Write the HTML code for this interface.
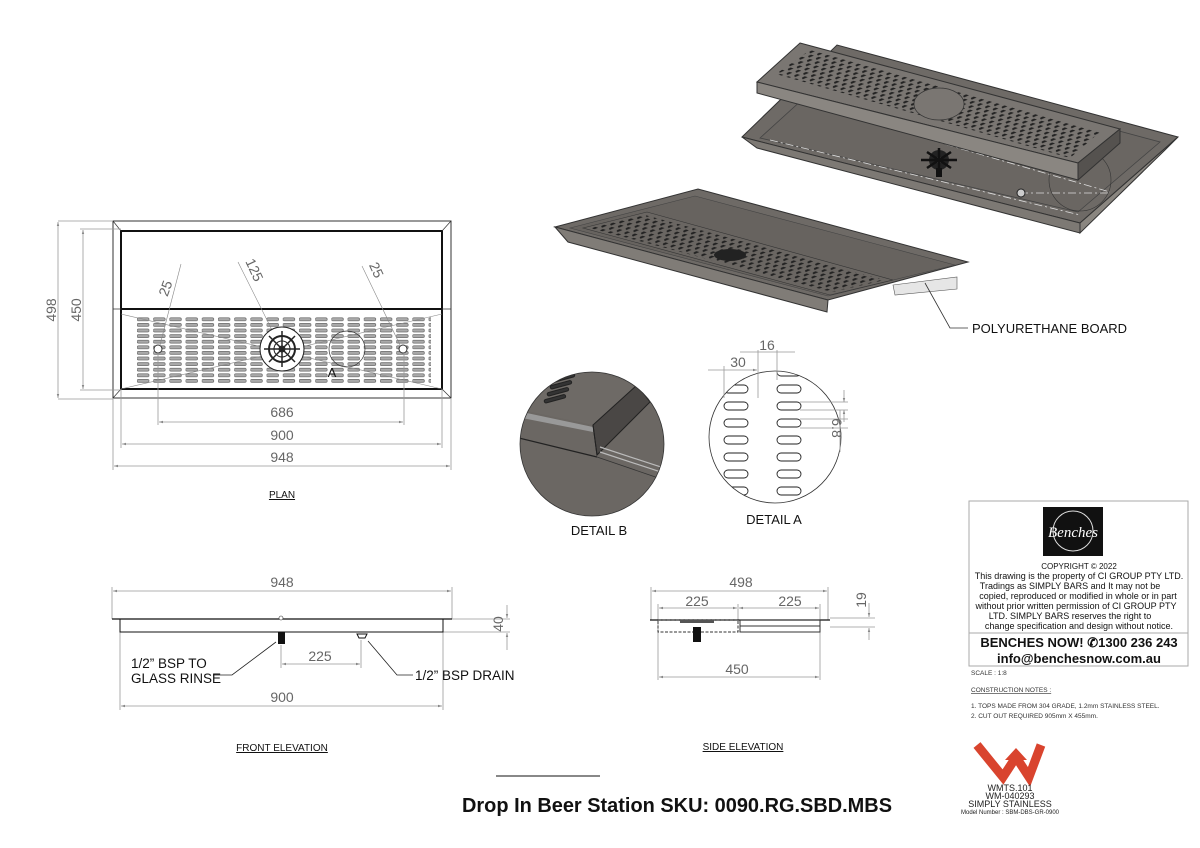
<!DOCTYPE html>
<html><head><meta charset="utf-8"><style>
html,body{margin:0;padding:0;background:#fff;}
svg{display:block;font-family:"Liberation Sans",sans-serif;}
.d{stroke:#999;stroke-width:0.8;fill:none}
.t{fill:#666;font-size:14px;text-anchor:middle}
</style></head><body>
<svg width="1200" height="848" viewBox="0 0 1200 848" xmlns="http://www.w3.org/2000/svg">
<defs>
<pattern id="slots" x="137" y="317" width="16.2" height="5.6" patternUnits="userSpaceOnUse">
<rect x="0" y="0.8" width="12" height="3" rx="1.5" fill="#aaa" stroke="#555" stroke-width="0.6"/>
</pattern>
<pattern id="iso" width="8" height="4.5" patternUnits="userSpaceOnUse" patternTransform="rotate(16)">
<rect x="0" y="0" width="6" height="2" rx="1" fill="#222" transform="rotate(-40 3 1)"/>
</pattern>
<marker id="ar" viewBox="0 0 10 10" refX="10" refY="5" markerWidth="7" markerHeight="5" orient="auto-start-reverse"><path d="M0,2 L10,5 L0,8z" fill="#888"/></marker>
<clipPath id="cB"><circle cx="592" cy="444" r="72"/></clipPath>
<clipPath id="cA"><circle cx="775" cy="437" r="66"/></clipPath>
</defs>

<!-- ===== ISO TOP RIGHT ===== -->
<polygon points="742,137 837,45 1178,137 1080,223" fill="#6e6a66" stroke="#333" stroke-width="1"/>
<polygon points="742,137 1080,223 1080,233 757,148" fill="#7d7974" stroke="#333" stroke-width="1"/>
<polygon points="1080,223 1178,137 1165,150 1080,233" fill="#8a8680" stroke="#333"/>
<polygon points="760,138 848,58 1160,142 1078,212" fill="#6a6662" stroke="#444" stroke-width="0.8"/>
<line x1="838" y1="113" x2="1110" y2="192" stroke="#ddd" stroke-width="0.8" stroke-dasharray="8,3,2,3"/>
<line x1="770" y1="140" x2="1080" y2="215" stroke="#ddd" stroke-width="0.8" stroke-dasharray="8,3,2,3"/>
<line x1="1020" y1="193" x2="1110" y2="193" stroke="#ddd" stroke-width="0.8" stroke-dasharray="8,3,2,3"/>
<circle cx="1080" cy="180" r="31" fill="none" stroke="#333" stroke-width="0.6"/>
<circle cx="1021" cy="193" r="4" fill="#ccc" stroke="#222"/>
<g transform="translate(939,160)"><circle r="10" fill="#222"/><circle r="3" fill="#ddd"/>
<path d="M-18,0H18M0,-12V12M-12,-8L12,8M-12,8L12,-8" stroke="#111" stroke-width="2.5"/><rect x="-3" y="8" width="6" height="9" fill="#111"/></g>
<polygon points="800,43 1120,129 1078,163 757,82" fill="#7a7672" stroke="#333" stroke-width="1"/>
<polygon points="776,74 810,50 1100,132 1070,158" fill="url(#iso)"/>
<ellipse cx="939" cy="104" rx="25" ry="16" fill="#7a7672" stroke="#333" stroke-width="0.7"/>
<polygon points="757,82 1078,163 1078,180 757,93" fill="#8a8681" stroke="#333" stroke-width="1"/>
<polygon points="1078,163 1120,129 1120,143 1078,180" fill="#55524f" stroke="#333"/>

<!-- ===== ISO BOTTOM LEFT ===== -->
<polygon points="555,227 698,189 968,262 828,300" fill="#6e6a66" stroke="#333" stroke-width="1"/>
<polygon points="555,227 828,300 827,312 568,242" fill="#807c77" stroke="#333"/>
<polygon points="570,228 695,196 955,265 828,296" fill="#67635f" stroke="#444" stroke-width="0.6"/>
<polygon points="583,228 647,212 893,280 830,295" fill="#6a6662" stroke="#333" stroke-width="0.6"/>
<polygon points="590,228 645,215 885,280 832,292" fill="url(#iso)"/>
<ellipse cx="730" cy="255" rx="16" ry="6" fill="#222"/>
<polygon points="893,285 957,277 957,289 895,295" fill="#e6e6e6" stroke="#555" stroke-width="0.6"/>
<polyline points="925,283 950,328 968,328" fill="none" stroke="#333" stroke-width="0.8"/>
<text x="972" y="333" font-size="13" fill="#111">POLYURETHANE BOARD</text>

<!-- ===== PLAN ===== -->
<rect x="113" y="221" width="338" height="177" fill="none" stroke="#333" stroke-width="1"/>
<rect x="121" y="231" width="321" height="158" fill="#fff" stroke="#111" stroke-width="2"/>
<line x1="113" y1="221" x2="121" y2="231" stroke="#333" stroke-width="0.7"/><line x1="451" y1="221" x2="442" y2="231" stroke="#333" stroke-width="0.7"/>
<line x1="113" y1="398" x2="121" y2="389" stroke="#333" stroke-width="0.7"/><line x1="451" y1="398" x2="442" y2="389" stroke="#333" stroke-width="0.7"/>
<line x1="113" y1="309" x2="451" y2="309" stroke="#333" stroke-width="0.7"/>
<line x1="121" y1="309" x2="442" y2="309" stroke="#111" stroke-width="2"/>
<rect x="137" y="317" width="294" height="67" fill="url(#slots)"/>
<g stroke="#888" stroke-width="0.6"><line x1="121" y1="389" x2="442" y2="314"/><line x1="121" y1="314" x2="442" y2="389"/>
<line x1="181" y1="264" x2="160" y2="345"/><line x1="238" y1="262" x2="272" y2="330"/><line x1="362" y1="266" x2="400" y2="345"/></g>
<circle cx="158" cy="349" r="4" fill="#fff" stroke="#333"/><circle cx="403" cy="349" r="4" fill="#fff" stroke="#333"/>
<circle cx="282" cy="349" r="22" fill="#fff" stroke="#222"/>
<g transform="translate(282,349)" stroke="#222" fill="none"><circle r="13" stroke-width="2"/><circle r="8"/><circle r="3" fill="#666"/>
<path d="M-18,0H18M0,-18V18M-13,-13L13,13M-13,13L13,-13" stroke-width="1.5"/></g>
<circle cx="347" cy="349" r="18" fill="none" stroke="#333" stroke-width="0.7"/>
<text x="332" y="377" font-size="13" fill="#111" text-anchor="middle">A</text>
<text class="t" font-size="12" transform="translate(170,290) rotate(-70)">25</text>
<text class="t" font-size="12" transform="translate(250,272) rotate(65)">125</text>
<text class="t" font-size="12" transform="translate(372,272) rotate(65)">25</text>
<g class="d"><line x1="58" y1="221" x2="113" y2="221"/><line x1="58" y1="399" x2="113" y2="399"/><line x1="80" y1="229" x2="121" y2="229"/><line x1="80" y1="390" x2="121" y2="390"/>
<line x1="58" y1="222" x2="58" y2="398" marker-start="url(#ar)" marker-end="url(#ar)"/>
<line x1="83" y1="230" x2="83" y2="389" marker-start="url(#ar)" marker-end="url(#ar)"/>
<line x1="158" y1="352" x2="158" y2="425"/><line x1="404" y1="352" x2="404" y2="425"/>
<line x1="121" y1="389" x2="121" y2="448"/><line x1="442" y1="389" x2="442" y2="448"/>
<line x1="113" y1="398" x2="113" y2="470"/><line x1="451" y1="398" x2="451" y2="470"/>
<line x1="159" y1="422" x2="403" y2="422" marker-start="url(#ar)" marker-end="url(#ar)"/>
<line x1="122" y1="444" x2="441" y2="444" marker-start="url(#ar)" marker-end="url(#ar)"/>
<line x1="114" y1="466" x2="450" y2="466" marker-start="url(#ar)" marker-end="url(#ar)"/></g>
<text class="t" transform="translate(56,310) rotate(-90)">498</text>
<text class="t" transform="translate(81,310) rotate(-90)">450</text>
<text class="t" x="282" y="417">686</text>
<text class="t" x="282" y="440">900</text>
<text class="t" x="282" y="462">948</text>
<text x="282" y="498" font-size="10" text-anchor="middle" fill="#111" text-decoration="underline">PLAN</text>

<!-- ===== DETAIL B ===== -->
<g clip-path="url(#cB)">
<rect x="510" y="370" width="170" height="150" fill="#6b6763"/>
<polygon points="522,410 593,425 637,385 560,360" fill="#6e6a66"/>
<polygon points="522,412 593,427 593,432 522,418" fill="#999"/>
<polygon points="593,425 637,385 650,402 597,455" fill="#4a4745" stroke="#222"/>
<line x1="593" y1="425" x2="597" y2="455" stroke="#222"/>
<path d="M515,437 L597,457" stroke="#222" stroke-width="1.2" fill="none"/>
<path d="M600,447 L670,470 M600,452 L670,475" stroke="#bbb" stroke-width="1.2" fill="none"/>
<path d="M597,457 L670,482" stroke="#333" stroke-width="0.8"/>
<g fill="#333" stroke="#222">
<rect x="544" y="397" width="22" height="3.5" rx="1.7" transform="rotate(-15 555 399)"/><rect x="547" y="390" width="22" height="3.5" rx="1.7" transform="rotate(-15 558 392)"/><rect x="550" y="383" width="22" height="3.5" rx="1.7" transform="rotate(-15 561 385)"/><rect x="553" y="376" width="22" height="3.5" rx="1.7" transform="rotate(-15 564 378)"/></g>
</g>
<circle cx="592" cy="444" r="72" fill="none" stroke="#333" stroke-width="0.8"/>
<text x="599" y="535" font-size="13" text-anchor="middle" fill="#111">DETAIL B</text>

<!-- ===== DETAIL A ===== -->
<g clip-path="url(#cA)" fill="#fff" stroke="#222" stroke-width="0.9">
<rect x="724" y="368" width="24" height="8" rx="4"/><rect x="777" y="368" width="24" height="8" rx="4"/>
<rect x="724" y="385" width="24" height="8" rx="4"/><rect x="724" y="402" width="24" height="8" rx="4"/><rect x="724" y="419" width="24" height="8" rx="4"/><rect x="724" y="436" width="24" height="8" rx="4"/><rect x="724" y="453" width="24" height="8" rx="4"/><rect x="724" y="470" width="24" height="8" rx="4"/><rect x="724" y="487" width="24" height="8" rx="4"/>
<rect x="777" y="385" width="24" height="8" rx="4"/><rect x="777" y="402" width="24" height="8" rx="4"/><rect x="777" y="419" width="24" height="8" rx="4"/><rect x="777" y="436" width="24" height="8" rx="4"/><rect x="777" y="453" width="24" height="8" rx="4"/><rect x="777" y="470" width="24" height="8" rx="4"/><rect x="777" y="487" width="24" height="8" rx="4"/>
</g>
<circle cx="775" cy="437" r="66" fill="none" stroke="#333" stroke-width="0.8"/>
<g class="d"><line x1="724" y1="366" x2="724" y2="398"/><line x1="758" y1="350" x2="758" y2="398"/><line x1="777" y1="350" x2="777" y2="380"/>
<line x1="708" y1="370" x2="757" y2="370" marker-end="url(#ar)"/><line x1="740" y1="352" x2="795" y2="352"/>
<line x1="800" y1="402" x2="848" y2="402"/><line x1="800" y1="410" x2="848" y2="410"/><line x1="800" y1="428" x2="848" y2="428"/><line x1="800" y1="419" x2="848" y2="419"/>
<line x1="844" y1="390" x2="844" y2="402" marker-end="url(#ar)"/><line x1="844" y1="422" x2="844" y2="410" marker-end="url(#ar)"/>
<line x1="840" y1="410" x2="840" y2="452"/></g>
<text class="t" x="767" y="350">16</text>
<text class="t" x="738" y="367">30</text>
<text class="t" transform="translate(832,428) rotate(90)">6.8</text>
<text x="774" y="524" font-size="13" text-anchor="middle" fill="#111">DETAIL A</text>

<!-- ===== FRONT ELEVATION ===== -->
<g class="d"><line x1="112" y1="587" x2="112" y2="619"/><line x1="452" y1="587" x2="452" y2="619"/>
<line x1="113" y1="591" x2="451" y2="591" marker-start="url(#ar)" marker-end="url(#ar)"/>
<line x1="452" y1="619" x2="510" y2="619"/><line x1="443" y1="632" x2="510" y2="632"/>
<line x1="507" y1="605" x2="507" y2="618" marker-end="url(#ar)"/><line x1="507" y1="650" x2="507" y2="633" marker-end="url(#ar)"/>
<line x1="281" y1="645" x2="281" y2="668"/><line x1="361" y1="640" x2="361" y2="668"/>
<line x1="282" y1="664" x2="360" y2="664" marker-start="url(#ar)" marker-end="url(#ar)"/>
<line x1="120" y1="632" x2="120" y2="710"/><line x1="443" y1="632" x2="443" y2="710"/>
<line x1="121" y1="706" x2="442" y2="706" marker-start="url(#ar)" marker-end="url(#ar)"/></g>
<line x1="112" y1="619" x2="452" y2="619" stroke="#111" stroke-width="1.2"/>
<rect x="120" y="619" width="323" height="13" fill="none" stroke="#111" stroke-width="1"/>
<rect x="278" y="632" width="7" height="12" fill="#111"/>
<path d="M357,634h10l-2,4h-6z" fill="none" stroke="#111"/>
<circle cx="281" cy="618" r="2" fill="#fff" stroke="#333" stroke-width="0.6"/>
<polyline points="213,675 232,675 276,642" fill="none" stroke="#222" stroke-width="0.8"/>
<polyline points="413,675 397,675 368,641" fill="none" stroke="#222" stroke-width="0.8"/>
<text x="131" y="668" font-size="13.5" fill="#111">1/2”  BSP  TO</text>
<text x="131" y="683" font-size="13.5" fill="#111">GLASS RINSE</text>
<text x="415" y="680" font-size="13.5" fill="#111">1/2” BSP DRAIN</text>
<text class="t" x="282" y="587">948</text>
<text class="t" x="320" y="661">225</text>
<text class="t" x="282" y="702">900</text>
<text class="t" transform="translate(503,624) rotate(-90)">40</text>
<text x="282" y="751" font-size="10" text-anchor="middle" fill="#111" text-decoration="underline">FRONT ELEVATION</text>

<!-- ===== SIDE ELEVATION ===== -->
<g class="d"><line x1="651" y1="587" x2="651" y2="620"/><line x1="828" y1="587" x2="828" y2="620"/>
<line x1="652" y1="591" x2="827" y2="591" marker-start="url(#ar)" marker-end="url(#ar)"/>
<line x1="658" y1="604" x2="658" y2="680"/><line x1="738" y1="604" x2="738" y2="620"/><line x1="820" y1="604" x2="820" y2="680"/>
<line x1="659" y1="608" x2="737" y2="608" marker-start="url(#ar)" marker-end="url(#ar)"/>
<line x1="739" y1="608" x2="819" y2="608" marker-start="url(#ar)" marker-end="url(#ar)"/>
<line x1="659" y1="677" x2="819" y2="677" marker-start="url(#ar)" marker-end="url(#ar)"/>
<line x1="830" y1="618" x2="875" y2="618"/><line x1="830" y1="627" x2="875" y2="627"/>
<line x1="869" y1="603" x2="869" y2="617" marker-end="url(#ar)"/><line x1="869" y1="640" x2="869" y2="628" marker-end="url(#ar)"/></g>
<line x1="650" y1="620" x2="830" y2="620" stroke="#111" stroke-width="1.2"/>
<rect x="658" y="620" width="80" height="12" fill="none" stroke="#333" stroke-dasharray="3,1.5"/>
<rect x="740" y="620" width="80" height="12" fill="none" stroke="#333"/>
<line x1="740" y1="626" x2="820" y2="626" stroke="#333"/>
<rect x="693" y="627" width="8" height="15" fill="#111"/><rect x="680" y="620" width="34" height="3" fill="#555"/>
<text class="t" x="741" y="587">498</text>
<text class="t" x="697" y="606">225</text>
<text class="t" x="790" y="606">225</text>
<text class="t" x="737" y="674">450</text>
<text class="t" transform="translate(866,600) rotate(-90)">19</text>
<text x="743" y="750" font-size="10" text-anchor="middle" fill="#111" text-decoration="underline">SIDE ELEVATION</text>

<!-- ===== TITLE ===== -->
<line x1="496" y1="776" x2="600" y2="776" stroke="#111" stroke-width="1"/>
<text x="462" y="812" font-size="20" font-weight="bold" fill="#111" textLength="430" lengthAdjust="spacingAndGlyphs">Drop In Beer Station SKU: 0090.RG.SBD.MBS</text>

<!-- ===== TITLE BLOCK ===== -->
<rect x="969" y="501" width="219" height="165" fill="#fff" stroke="#aaa" stroke-width="1"/>
<line x1="969" y1="633" x2="1188" y2="633" stroke="#aaa"/>
<rect x="1043" y="507" width="60" height="49" fill="#111"/>
<circle cx="1073" cy="531" r="20" fill="none" stroke="#ddd" stroke-width="1"/>
<text x="1073" y="537" font-size="15" font-family="Liberation Serif,serif" font-style="italic" fill="#fff" text-anchor="middle">Benches</text>
<g font-size="9" fill="#111" text-anchor="middle">
<text x="1079" y="569" font-size="8">COPYRIGHT © 2022</text>
<text x="1079" y="579">This drawing is the property of CI GROUP PTY LTD.</text>
<text x="1070" y="589">Tradings as SIMPLY BARS and It may not be</text>
<text x="1078" y="599">copied, reproduced or modified in whole or in part</text>
<text x="1076" y="609">without prior written permission of CI GROUP PTY</text>
<text x="1070" y="619">LTD. SIMPLY BARS reserves the right to</text>
<text x="1079" y="629">change specification and design without notice.</text>
</g>
<text x="1079" y="647" font-size="13" font-weight="bold" fill="#111" text-anchor="middle">BENCHES NOW!  ✆1300 236 243</text>
<text x="1079" y="663" font-size="13" font-weight="bold" fill="#111" text-anchor="middle">info@benchesnow.com.au</text>
<text x="971" y="675" font-size="6.5" fill="#333">SCALE : 1:8</text>
<text x="971" y="692" font-size="6.5" fill="#333" text-decoration="underline">CONSTRUCTION NOTES :</text>
<text x="971" y="708" font-size="6.5" fill="#333">1. TOPS MADE FROM 304 GRADE, 1.2mm STAINLESS STEEL.</text>
<text x="971" y="718" font-size="6.5" fill="#333">2. CUT OUT REQUIRED 905mm X 455mm.</text>
<polyline points="977,745 1003,777 1016,757 1029,777 1041,745" fill="none" stroke="#d9442e" stroke-width="9" stroke-linejoin="miter"/>
<polygon points="1005,760 1016,748 1027,760" fill="#d9442e"/>
<g font-size="9" fill="#222" text-anchor="middle"><text x="1010" y="791">WMTS.101</text><text x="1010" y="799">WM-040293</text><text x="1010" y="807">SIMPLY STAINLESS</text><text x="1010" y="814" font-size="6">Model Number : SBM-DBS-GR-0900</text></g>
</svg>
</body></html>
